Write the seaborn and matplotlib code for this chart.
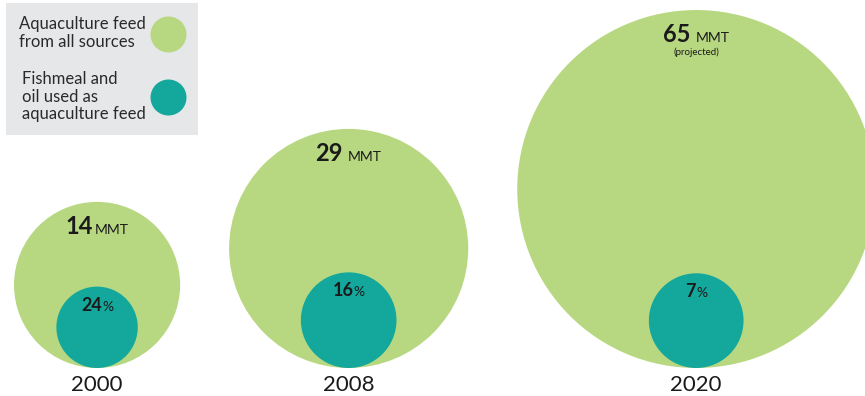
import matplotlib
matplotlib.use("Agg")
import matplotlib.pyplot as plt
import numpy as np
import pandas as pd
import seaborn as sns
from matplotlib.lines import Line2D
from matplotlib.offsetbox import AnnotationBbox, HPacker, TextArea, VPacker

# Aquaculture feed volumes and the share supplied by fishmeal and fish oil
years = ["2000", "2008", "2020"]
feed_total_mmt = [14, 29, 65]
fishmeal_share_pct = [24, 16, 7]
notes = ["", "", "(projected)"]

legend_labels = ["Aquaculture feed\nfrom all sources",
                 "Fishmeal and\noil used as\naquaculture feed"]

GREEN = "#b7d881"
TEAL = "#13a89b"
INK = "#1a1a1a"
PANEL = "#e6e7e8"

W, H, DPI = 865, 396, 100
PX_PER_SQRT = 22.2      # circle radius (px) per sqrt(MMT), so area tracks volume
GROUND = 368            # circles rest on this line (px from top)
LEFT = 14
GAP = 49

sns.set_theme(style="white")
plt.rcParams["font.family"] = ["Lato", "DejaVu Sans"]

total = np.array(feed_total_mmt, dtype=float)
fish = total * np.array(fishmeal_share_pct, dtype=float) / 100.0
r_total = PX_PER_SQRT * np.sqrt(total)
r_fish = PX_PER_SQRT * np.sqrt(fish)

# pack the circles left to right
cx = []
edge = LEFT
for r in r_total:
    cx.append(edge + r)
    edge += 2 * r + GAP
cx = np.array(cx)

df_total = pd.DataFrame({"year": years, "x": cx, "y": GROUND - r_total, "value": total})
df_fish = pd.DataFrame({"year": years, "x": cx, "y": GROUND - r_fish, "value": fish})

fig = plt.figure(figsize=(W / DPI, H / DPI), dpi=DPI)
ax = fig.add_axes([0, 0, 1, 1])

# marker area in pt^2 is linear in the value
pt = 72.0 / DPI
s_max = (2 * PX_PER_SQRT * np.sqrt(total.max()) * pt) ** 2
common = dict(x="x", y="y", size="value", sizes=(0, s_max),
              size_norm=(0, total.max()), linewidth=0, legend=False, ax=ax)
sns.scatterplot(data=df_total, color=GREEN, **common)
sns.scatterplot(data=df_fish, color=TEAL, **common)

ax.set_xlim(0, W)
ax.set_ylim(H, 0)
ax.set_aspect("equal")
ax.axis("off")


def value_label(big, small, big_size, small_size, sep, extra=None):
    a = TextArea(big, textprops=dict(fontsize=big_size, fontweight="bold", color=INK))
    b = TextArea(small, textprops=dict(fontsize=small_size, color=INK))
    row = HPacker(children=[a, b], align="baseline", pad=0, sep=sep)
    if extra:
        c = TextArea(extra, textprops=dict(fontsize=7, color=INK))
        return VPacker(children=[row, c], align="center", pad=0, sep=1)
    return row


for i, yr in enumerate(years):
    top_total = GROUND - 2 * r_total[i]
    top_fish = GROUND - 2 * r_fish[i]
    box = value_label(str(feed_total_mmt[i]), "MMT", 17, 10, 1 if i == 0 else 4, notes[i])
    ax.add_artist(AnnotationBbox(box, (cx[i], top_total + 13), frameon=False,
                                 box_alignment=(0.5, 1.0), pad=0))
    box = value_label(str(fishmeal_share_pct[i]), "%", 13, 10, 0)
    ax.add_artist(AnnotationBbox(box, (cx[i], top_fish + 10), frameon=False,
                                 box_alignment=(0.5, 1.0), pad=0))
    ax.text(cx[i], GROUND + 17, yr, ha="center", va="center", fontsize=16, color=INK)

handle_ms = 2 * 18 * pt
handles = [Line2D([], [], linestyle="none", marker="o", markersize=handle_ms,
                  markerfacecolor=c, markeredgewidth=0) for c in (GREEN, TEAL)]
leg = ax.legend(handles, legend_labels, loc="upper left",
                bbox_to_anchor=(6 / W, 1 - 3 / H), bbox_transform=ax.transAxes,
                borderaxespad=0, markerfirst=False, frameon=True, fancybox=False,
                facecolor=PANEL, edgecolor="none", framealpha=1,
                prop=dict(size=12), labelcolor="#2a2a2a",
                handlelength=2.0, handletextpad=0.3, labelspacing=1.3,
                borderpad=0.8)
for t in leg.get_texts():
    t.set_linespacing(1.1)

fig.savefig("out.png", dpi=DPI)
